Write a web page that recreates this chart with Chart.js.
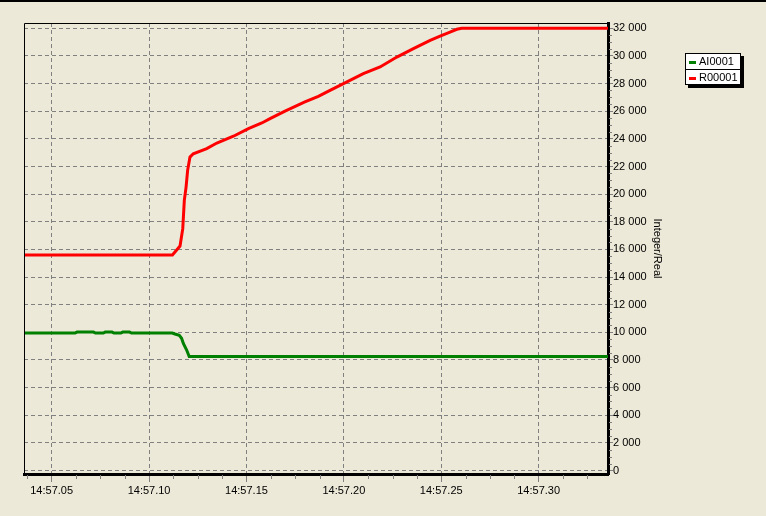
<!DOCTYPE html>
<html>
<head>
<meta charset="utf-8">
<script src="https://cdn.jsdelivr.net/npm/chart.js@4"></script>
<style>
  html, body { margin: 0; padding: 0; background: #ECE9D8; }
  #wrap { position: relative; width: 766px; height: 516px; overflow: hidden; }
  #topline { position: absolute; left: 0; top: 0; width: 766px; height: 2px; background: #000; }
  #legend {
    position: absolute; left: 685px; top: 53px; width: 54px;
    background: #fff; border: 1px solid #000; box-shadow: 3px 3px 0 #000;
    font: 11px "Liberation Sans", Arial, sans-serif; color: #000;
  }
  #legend .row { height: 15px; line-height: 15px; white-space: nowrap; }
  #legend .row + .row { border-top: 1px solid #000; height: 14px; line-height: 14px; }
  #legend .sw { display: inline-block; width: 7px; height: 3px; margin: 0 3px 0 3px; vertical-align: middle; }
</style>
</head>
<body>
<div id="wrap">
  <canvas id="chart" width="766" height="516"></canvas>
  <div id="topline"></div>
  <div id="legend"></div>
</div>
<script>
// ---- data (seconds after 14:57:00) ----
const SERIES_NAMES = ['AI0001', 'R00001'];
const SERIES_COLORS = ['#008000', '#FF0000'];

const AI_TIME = [3.58, 6.2, 6.3, 7.15, 7.25, 7.65, 7.75, 8.1, 8.2, 8.55, 8.65, 9.0, 9.1,
                 11.19, 11.33, 11.55, 11.67, 11.76, 11.93, 12.06, 33.56];
const AI_VALUES = [9950, 9950, 10020, 10020, 9950, 9950, 10020, 10020, 9950, 9950, 10020, 10020, 9950,
                   9950, 9880, 9780, 9570, 9200, 8720, 8250, 8250];

const R_TIME = [3.58, 11.2, 11.59, 11.73, 11.81, 11.9, 11.98, 12.1, 12.27, 12.96, 13.48, 14.33,
                15.1, 15.79, 16.21, 16.98, 18.0, 18.69, 19.29, 19.98, 21.0, 21.86, 22.72,
                23.57, 24.43, 24.94, 25.45, 25.8, 26.05, 33.56];
const R_VALUES = [15600, 15600, 16240, 17500, 19550, 20510, 21720, 22680, 22920, 23290, 23700, 24190,
                  24740, 25150, 25460, 26010, 26670, 27080, 27510, 28000, 28720, 29200, 29920,
                  30530, 31130, 31440, 31730, 31930, 32000, 32000];

const X_TICKS = [5, 10, 15, 20, 25, 30];
const Y_TICKS = [0, 2000, 4000, 6000, 8000, 10000, 12000, 14000, 16000, 18000, 20000,
                 22000, 24000, 26000, 28000, 30000, 32000];
const Y_TITLE = 'Integer/Real';

const X_MIN = 3.58, X_MAX = 33.56;
const Y_MIN = -253, Y_MAX = 32384;
const X_MINOR = 1.25, Y_MINOR = 500;

const FONT = '"Liberation Sans", Arial, sans-serif';
const GRID = '#808080';

function pts(ts, vs) { return ts.map((t, i) => ({ x: t, y: vs[i] })); }
function fmtTime(v) { return '14:57.' + String(v).padStart(2, '0'); }
function fmtNum(v) { return String(v).replace(/\B(?=(\d{3})+(?!\d))/g, ' '); }

// frame lines + minor ticks
const extras = {
  id: 'extras',
  afterDraw(chart) {
    const { ctx, chartArea: a, scales: { x, y } } = chart;
    ctx.save();
    ctx.strokeStyle = '#000';
    ctx.lineWidth = 1;
    ctx.beginPath();
    ctx.moveTo(a.left + 0.5, a.bottom);
    ctx.lineTo(a.left + 0.5, a.top + 0.5);
    ctx.lineTo(a.right, a.top + 0.5);
    ctx.stroke();

    ctx.strokeStyle = GRID;
    ctx.beginPath();
    for (let t = X_TICKS[0] - X_MINOR; t < X_MAX; t += X_MINOR) {
      if (t < X_MIN || X_TICKS.includes(t)) continue;
      const px = Math.round(x.getPixelForValue(t)) + 0.5;
      ctx.moveTo(px, a.bottom + 1);
      ctx.lineTo(px, a.bottom + 5);
    }
    for (let v = 0; v <= Y_MAX; v += Y_MINOR) {
      if (v % 2000 === 0) continue;
      const py = Math.round(y.getPixelForValue(v)) + 0.5;
      ctx.moveTo(a.right + 1, py);
      ctx.lineTo(a.right + 4, py);
    }
    ctx.stroke();
    ctx.restore();
  }
};

new Chart(document.getElementById('chart'), {
  type: 'line',
  data: {
    datasets: [
      { label: SERIES_NAMES[0], data: pts(AI_TIME, AI_VALUES), borderColor: SERIES_COLORS[0],
        borderWidth: 3, pointRadius: 0, tension: 0 },
      { label: SERIES_NAMES[1], data: pts(R_TIME, R_VALUES), borderColor: SERIES_COLORS[1],
        borderWidth: 3, pointRadius: 0, tension: 0 }
    ]
  },
  options: {
    responsive: false,
    animation: false,
    layout: { padding: { left: 24, top: 23, right: 0, bottom: 0 } },
    plugins: { legend: { display: false }, tooltip: { enabled: false } },
    scales: {
      x: {
        type: 'linear', position: 'bottom', min: X_MIN, max: X_MAX,
        afterBuildTicks: s => { s.ticks = X_TICKS.map(v => ({ value: v })); },
        afterFit: s => { s.height = 42; },
        grid: { color: GRID, lineWidth: 1, tickLength: 8, tickColor: GRID, tickBorderDash: [] },
        border: { color: '#000', width: 3, dash: [4, 3] },
        ticks: { color: '#000', font: { family: FONT, size: 11 }, padding: 2,
                 maxRotation: 0, autoSkip: false, callback: v => fmtTime(v) }
      },
      y: {
        type: 'linear', position: 'right', min: Y_MIN, max: Y_MAX,
        afterBuildTicks: s => { s.ticks = Y_TICKS.map(v => ({ value: v })); },
        afterFit: s => { s.width = 158; },
        grid: { color: GRID, lineWidth: 1, tickLength: 5, tickColor: GRID, tickBorderDash: [] },
        border: { color: '#000', width: 3, dash: [4, 3] },
        ticks: { color: '#000', font: { family: FONT, size: 11 }, padding: 0,
                 autoSkip: false, callback: v => fmtNum(v) },
        title: { display: true, text: Y_TITLE, color: '#000',
                 font: { family: FONT, size: 11 }, padding: { top: 102, bottom: 0 } }
      }
    }
  },
  plugins: [extras]
});

// legend box
const legend = document.getElementById('legend');
SERIES_NAMES.forEach((name, i) => {
  const row = document.createElement('div');
  row.className = 'row';
  row.innerHTML = '<span class="sw" style="background:' + SERIES_COLORS[i] + '"></span>' + name;
  legend.appendChild(row);
});
</script>
</body>
</html>
